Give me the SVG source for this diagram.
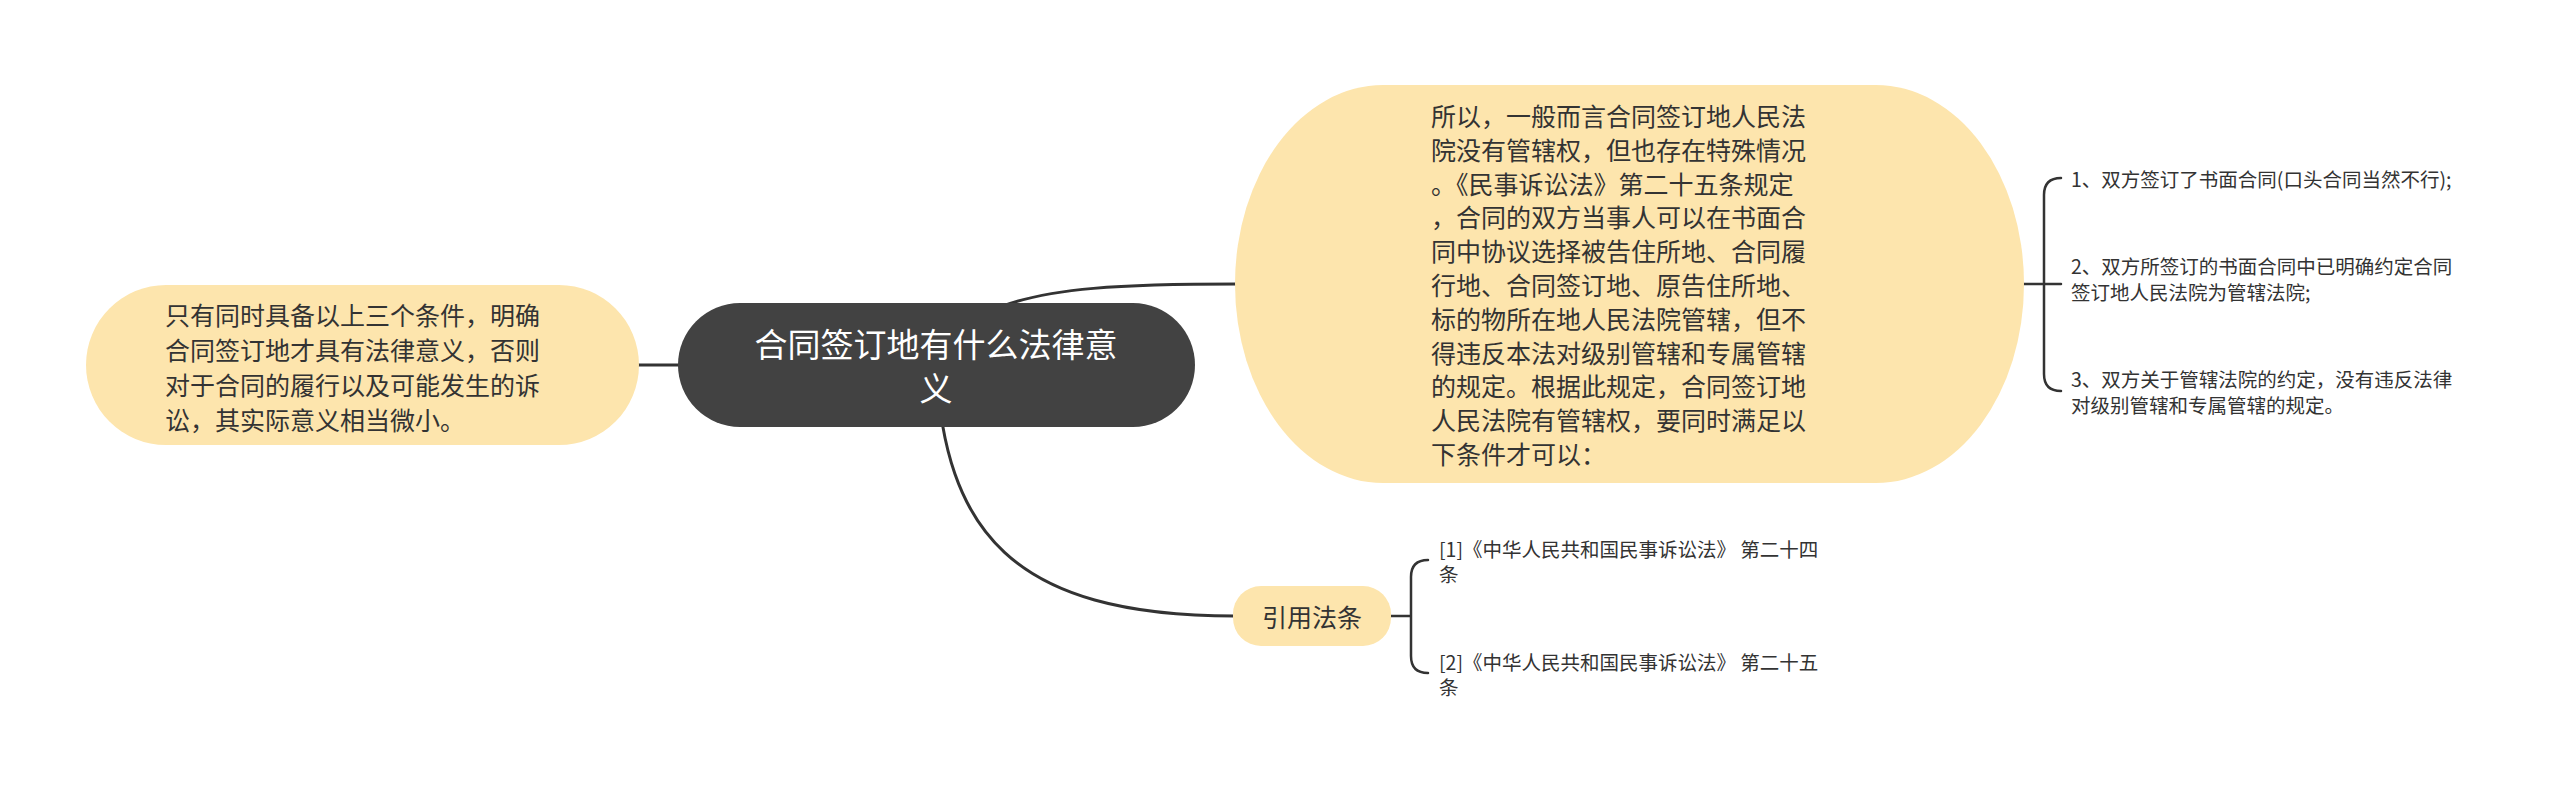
<svg xmlns="http://www.w3.org/2000/svg" width="2560" height="792" viewBox="0 0 2560 792">
<style>
.t{font-family:"Noto Sans CJK SC","Liberation Sans",sans-serif;dominant-baseline:central}
.n{font-size:25px;fill:#333}
.s{font-size:19.5px;fill:#333}
.r{font-size:33px;fill:#ffffff}
.y{fill:#fde5ad}
.c{fill:none;stroke:#333;stroke-width:3;stroke-linecap:round}
.b{fill:none;stroke:#333;stroke-width:2.5;stroke-linecap:round}
</style>
<rect width="2560" height="792" fill="#ffffff"/>
<g id="connectors">
<path class="c" d="M637 365 L680 365"/>
<path class="c" d="M1000 307 C1050 288 1120 284 1238 284"/>
<path class="c" d="M936 365 C945 530 1010 616 1235 616"/>
<path class="b" d="M2022 284 L2061 284 M2061 178 Q2044 178 2044 195 L2044 374 Q2044 391 2061 391"/>
<path class="b" d="M1391 616 L1411 616 M1428 560 Q1411 560 1411 577 L1411 656 Q1411 673 1428 673"/>
</g>
<g id="root">
<rect x="678" y="303" width="517" height="124" rx="62" fill="#424242"/>
<text class="t r" x="936" y="343" text-anchor="middle">合同签订地有什么法律意</text>
<text class="t r" x="936" y="387" text-anchor="middle">义</text>
</g>
<g id="left">
<rect class="y" x="86" y="285" width="553" height="160" rx="80"/>
<text class="t n" x="165" y="314">只有同时具备以上三个条件，明确</text>
<text class="t n" x="165" y="349">合同签订地才具有法律意义，否则</text>
<text class="t n" x="165" y="384">对于合同的履行以及可能发生的诉</text>
<text class="t n" x="165" y="419">讼，其实际意义相当微小。</text>
</g>
<g id="right">
<rect class="y" x="1235" y="85" width="789" height="398" rx="148" ry="199"/>
<text class="t n" x="1431" y="115">所以，一般而言合同签订地人民法</text>
<text class="t n" x="1431" y="149">院没有管辖权，但也存在特殊情况</text>
<text class="t n" x="1431" y="183">。《民事诉讼法》第二十五条规定</text>
<text class="t n" x="1431" y="216">，合同的双方当事人可以在书面合</text>
<text class="t n" x="1431" y="250">同中协议选择被告住所地、合同履</text>
<text class="t n" x="1431" y="284">行地、合同签订地、原告住所地、</text>
<text class="t n" x="1431" y="318">标的物所在地人民法院管辖，但不</text>
<text class="t n" x="1431" y="352">得违反本法对级别管辖和专属管辖</text>
<text class="t n" x="1431" y="385">的规定。根据此规定，合同签订地</text>
<text class="t n" x="1431" y="419">人民法院有管辖权，要同时满足以</text>
<text class="t n" x="1431" y="453">下条件才可以：</text>
</g>
<g id="item1">
<text class="t s" x="2071" y="178">1、双方签订了书面合同(口头合同当然不行);</text>
</g>
<g id="item2">
<text class="t s" x="2071" y="265">2、双方所签订的书面合同中已明确约定合同</text>
<text class="t s" x="2071" y="291">签订地人民法院为管辖法院;</text>
</g>
<g id="item3">
<text class="t s" x="2071" y="378">3、双方关于管辖法院的约定，没有违反法律</text>
<text class="t s" x="2071" y="404">对级别管辖和专属管辖的规定。</text>
</g>
<g id="law">
<rect class="y" x="1233" y="586" width="158" height="60" rx="28"/>
<text class="t n" x="1312" y="616" text-anchor="middle">引用法条</text>
</g>
<g id="law1">
<text class="t s" x="1439" y="548">[1]《中华人民共和国民事诉讼法》 第二十四</text>
<text class="t s" x="1439" y="573">条</text>
</g>
<g id="law2">
<text class="t s" x="1439" y="661">[2]《中华人民共和国民事诉讼法》 第二十五</text>
<text class="t s" x="1439" y="686">条</text>
</g>
</svg>
